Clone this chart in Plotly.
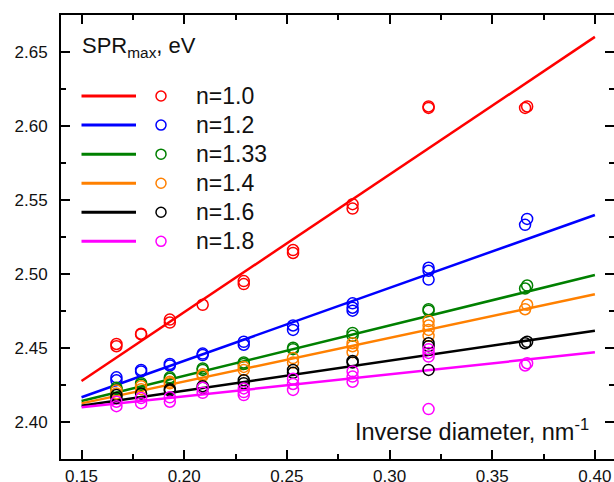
import plotly.graph_objects as go

# ---------------- data ----------------
series_names = ["n=1.0", "n=1.2", "n=1.33", "n=1.4", "n=1.6", "n=1.8"]
series_colors = ["#FF0000", "#0000FF", "#008000", "#FF8000", "#000000", "#FF00FF"]

# linear-fit end points (x = 0.15 and x = 0.40)
fit_x = [0.15, 0.40]
fit_red = [2.4275, 2.660]
fit_blue = [2.4165, 2.5397]
fit_green = [2.4140, 2.4991]
fit_orange = [2.4124, 2.4861]
fit_black = [2.4108, 2.4615]
fit_magenta = [2.4097, 2.4469]

# measured points (inverse diameter, SPR max)
x_red = [0.167, 0.167, 0.179, 0.179, 0.193, 0.193, 0.209, 0.229, 0.229, 0.253, 0.253,
         0.282, 0.282, 0.319, 0.319, 0.366, 0.367]
y_red = [2.451, 2.4525, 2.459, 2.4595, 2.467, 2.469, 2.479, 2.493, 2.495, 2.514, 2.516,
         2.544, 2.547, 2.612, 2.613, 2.612, 2.613]

x_blue = [0.167, 0.167, 0.179, 0.179, 0.193, 0.193, 0.209, 0.209, 0.229, 0.229, 0.253, 0.253,
          0.282, 0.282, 0.282, 0.319, 0.319, 0.319, 0.366, 0.367]
y_blue = [2.428, 2.430, 2.434, 2.435, 2.438, 2.439, 2.445, 2.446, 2.452, 2.454, 2.462, 2.465,
          2.475, 2.477, 2.480, 2.496, 2.502, 2.504, 2.533, 2.537]

x_green = [0.167, 0.167, 0.179, 0.179, 0.193, 0.193, 0.209, 0.209, 0.229, 0.229, 0.253, 0.253,
           0.282, 0.282, 0.319, 0.319, 0.366, 0.367]
y_green = [2.422, 2.423, 2.425, 2.426, 2.429, 2.430, 2.435, 2.436, 2.439, 2.440, 2.449, 2.450,
           2.458, 2.460, 2.475, 2.476, 2.490, 2.492]

x_orange = [0.167, 0.167, 0.179, 0.179, 0.193, 0.193, 0.209, 0.209, 0.229, 0.229, 0.253, 0.253,
            0.282, 0.282, 0.282, 0.319, 0.319, 0.319, 0.319, 0.366, 0.367]
y_orange = [2.419, 2.421, 2.422, 2.424, 2.426, 2.427, 2.431, 2.432, 2.435, 2.437, 2.440, 2.443,
            2.447, 2.451, 2.453, 2.458, 2.462, 2.465, 2.468, 2.476, 2.479]

x_black = [0.167, 0.167, 0.179, 0.193, 0.193, 0.209, 0.209, 0.229, 0.229, 0.253, 0.253,
           0.282, 0.282, 0.319, 0.319, 0.319, 0.366, 0.367]
y_black = [2.416, 2.418, 2.419, 2.421, 2.422, 2.423, 2.424, 2.426, 2.428, 2.433, 2.435,
           2.440, 2.441, 2.435, 2.451, 2.453, 2.453, 2.454]

x_magenta = [0.167, 0.167, 0.179, 0.179, 0.193, 0.193, 0.209, 0.209, 0.229, 0.229, 0.229,
             0.253, 0.253, 0.253, 0.282, 0.282, 0.282, 0.319, 0.319, 0.319, 0.319, 0.366, 0.367]
y_magenta = [2.4105, 2.4135, 2.4125, 2.416, 2.4135, 2.4165, 2.4195, 2.423, 2.418, 2.420, 2.4225,
             2.4215, 2.4255, 2.429, 2.427, 2.4305, 2.434, 2.4085, 2.444, 2.4465, 2.449, 2.438, 2.4395]

x_tick_vals = [0.15, 0.20, 0.25, 0.30, 0.35, 0.40]
y_tick_vals = [2.40, 2.45, 2.50, 2.55, 2.60, 2.65]

fits = [fit_red, fit_blue, fit_green, fit_orange, fit_black, fit_magenta]
xs = [x_red, x_blue, x_green, x_orange, x_black, x_magenta]
ys = [y_red, y_blue, y_green, y_orange, y_black, y_magenta]

# ---------------- figure ----------------
W, H = 614, 482
ML, MR, MT, MB = 61, 0, 15, 23
fig = go.Figure()

for name, col, f in zip(series_names, series_colors, fits):
    fig.add_trace(go.Scatter(x=fit_x, y=f, mode="lines", line=dict(color=col, width=2.5),
                             showlegend=False, hoverinfo="skip"))
for name, col, x, y in zip(series_names, series_colors, xs, ys):
    fig.add_trace(go.Scatter(x=x, y=y, mode="markers", name=name,
                             marker=dict(symbol="circle-open", size=11, color=col,
                                         line=dict(width=1.5, color=col)),
                             showlegend=False))

font_family = "Liberation Sans, Arial, sans-serif"
axis_common = dict(showline=True, linewidth=2, linecolor="black", mirror="ticks",
                   ticks="inside", ticklen=9, tickwidth=2, tickcolor="black",
                   showgrid=False, zeroline=False, automargin=False,
                   tickfont=dict(family=font_family, size=17, color="#111"),
                   tickformat=".2f")

fig.update_layout(
    width=W, height=H, template="none",
    margin=dict(l=ML, r=MR, t=MT, b=MB),
    paper_bgcolor="white", plot_bgcolor="white",
    xaxis=dict(range=[0.14, 0.4093], tickvals=x_tick_vals, ticklabelstandoff=1,
               minor=dict(ticks="inside", ticklen=5, tickwidth=2, tickcolor="black",
                          dtick=0.025, tick0=0.15),
               **axis_common),
    yaxis=dict(range=[2.3748, 2.6748], tickvals=y_tick_vals, ticklabelstandoff=8,
               minor=dict(ticks="inside", ticklen=5, tickwidth=2, tickcolor="black",
                          dtick=0.025, tick0=2.40),
               **axis_common),
)

pw = W - ML - MR
ph = H - MT - MB
def px_to_paper_x(px):
    return (px - ML) / pw
def px_to_paper_y(py):
    return (H - MB - py) / ph

# axis titles drawn inside the plot
fig.add_annotation(text="SPR<sub>max</sub>, eV", xref="paper", yref="paper",
                   x=px_to_paper_x(80), y=px_to_paper_y(47), xanchor="left", yanchor="middle",
                   showarrow=False, font=dict(family=font_family, size=22, color="#111"))
fig.add_annotation(text="Inverse diameter, nm<sup>-1</sup>", xref="paper", yref="paper",
                   x=px_to_paper_x(591), y=px_to_paper_y(430), xanchor="right", yanchor="middle",
                   showarrow=False, font=dict(family=font_family, size=23.5, color="#111"))

# legend built inside the plot
row0, row_step = 96, 29.07
for i, (name, col) in enumerate(zip(series_names, series_colors)):
    ry = px_to_paper_y(row0 + i * row_step)
    fig.add_shape(type="line", xref="paper", yref="paper",
                  x0=px_to_paper_x(81.5), x1=px_to_paper_x(136), y0=ry, y1=ry,
                  line=dict(color=col, width=3))
    fig.add_shape(type="circle", xref="paper", yref="paper",
                  xsizemode="pixel", ysizemode="pixel",
                  xanchor=px_to_paper_x(161), yanchor=ry, x0=-5, x1=5, y0=-5, y1=5,
                  line=dict(color=col, width=1.5))
    fig.add_annotation(text=name, xref="paper", yref="paper",
                       x=px_to_paper_x(194), y=ry, xanchor="left", yanchor="middle",
                       showarrow=False, font=dict(family=font_family, size=23, color="#111"))

fig.write_html("out.html", config={"displayModeBar": False},
               post_script="document.body.style.margin='0';document.body.style.overflow='hidden';")
